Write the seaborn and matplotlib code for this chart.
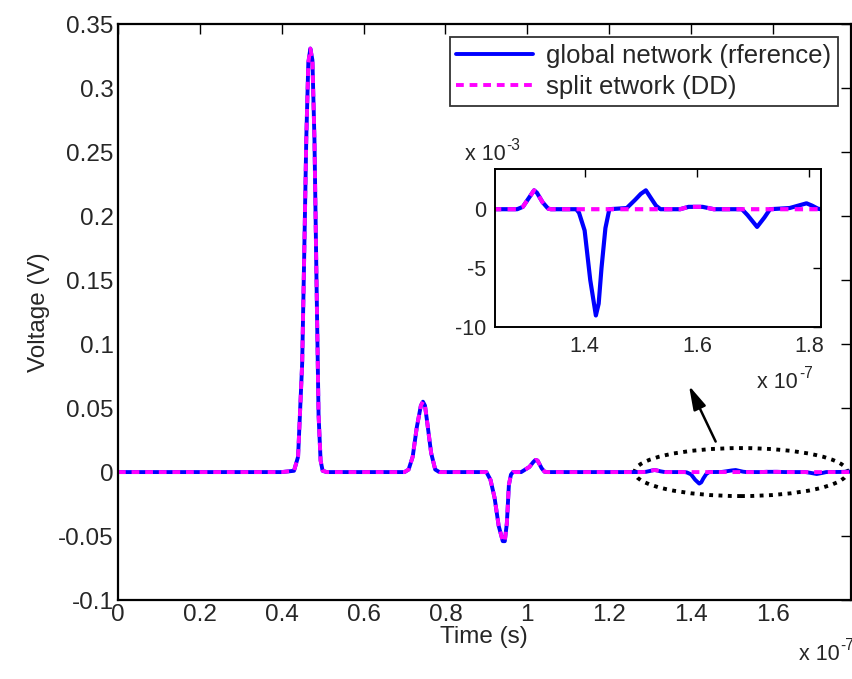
import matplotlib
matplotlib.use("Agg")
import matplotlib.pyplot as plt
from matplotlib.patches import Ellipse
import numpy as np
import pandas as pd
import seaborn as sns

# Time in units of 1e-7 s, voltage in V
t = [0.00, 0.40, 0.43, 0.44, 0.45, 0.455, 0.46, 0.465, 0.47, 0.475, 0.48, 0.485,
     0.49, 0.495, 0.50, 0.51, 0.70, 0.71, 0.72, 0.73, 0.74, 0.745, 0.75, 0.755,
     0.765, 0.775, 0.785, 0.90, 0.91, 0.92, 0.93, 0.94, 0.945, 0.95, 0.955, 0.96,
     0.965, 0.985, 0.995, 1.005, 1.015, 1.02, 1.025, 1.035, 1.042, 1.05, 1.28,
     1.29, 1.30, 1.31, 1.315, 1.325, 1.335, 1.34, 1.385, 1.39, 1.40, 1.41, 1.42,
     1.425, 1.43, 1.437, 1.444, 1.475, 1.49, 1.50, 1.509, 1.52, 1.527, 1.535,
     1.57, 1.585, 1.61, 1.63, 1.68, 1.69, 1.707, 1.72, 1.73, 1.765, 1.78, 1.795,
     1.805, 1.815, 1.82]

v_global = [0, 0, 0.001, 0.012, 0.085, 0.17, 0.26, 0.32, 0.331, 0.322, 0.26, 0.15,
            0.045, 0.009, 0.001, 0, 0, 0.002, 0.012, 0.035, 0.052, 0.055, 0.052,
            0.04, 0.015, 0.002, 0, 0, -0.006, -0.02, -0.042, -0.054, -0.054,
            -0.04, -0.01, -0.002, 0, 0, 0.002, 0.004, 0.008, 0.0095, 0.009,
            0.003, 0.0003, 0, 0, 0.0002, 0.0009, 0.0016, 0.0014, 0.0006, 0.00005,
            0, 0, -0.0003, -0.0018, -0.006, -0.009, -0.008, -0.005, -0.0016, 0,
            0.0001, 0.0008, 0.0013, 0.0016, 0.0008, 0.0003, 0, 0, 0.0002, 0.0002,
            0, 0, -0.0005, -0.0015, -0.0007, 0, 0.0001, 0.0003, 0.0005, 0.0003,
            0.00005, 0]

v_split = [0, 0, 0.001, 0.012, 0.085, 0.17, 0.26, 0.32, 0.331, 0.322, 0.26, 0.15,
           0.045, 0.009, 0.001, 0, 0, 0.002, 0.012, 0.035, 0.052, 0.055, 0.052,
           0.04, 0.015, 0.002, 0, 0, -0.006, -0.02, -0.042, -0.054, -0.054,
           -0.04, -0.01, -0.002, 0, 0, 0.002, 0.004, 0.008, 0.0095, 0.009,
           0.003, 0.0003, 0, 0, 0.0002, 0.0009, 0.0016, 0.0014, 0.0006, 0.00005,
           0, 0, 0, 0, 0, 0, 0, 0, 0, 0,
           0, 0, 0, 0, 0, 0, 0, 0, 0.0002, 0.0002,
           0, 0, 0, 0, 0, 0, 0, 0, 0, 0,
           0, 0]

main_xticks = [0, 0.2, 0.4, 0.6, 0.8, 1, 1.2, 1.4, 1.6]
main_yticks = [-0.1, -0.05, 0, 0.05, 0.1, 0.15, 0.2, 0.25, 0.3, 0.35]
inset_xticks = [1.4, 1.6, 1.8]
inset_yticks = [-10, -5, 0]  # units of 1e-3 V

label_global = "global network (rference)"
label_split = "split etwork (DD)"

df = pd.DataFrame({"t": t, "global": v_global, "split": v_split})

sns.set_theme(style="white")
plt.rcParams["font.family"] = ["Liberation Sans", "DejaVu Sans"]

FS = 17.5
FS_IN = 15.5
fig = plt.figure(figsize=(8.53, 6.79), dpi=100)
ax = fig.add_axes([0.1383, 0.1163, 0.859, 0.848])

blue = "#0000ff"
magenta = "#ff00ff"


def draw_curves(a, x, y1, y2, lw=2.8, dash=(2.0, 1.5)):
    sns.lineplot(x=x, y=y1, ax=a, color=blue, lw=lw, sort=False,
                 estimator=None, label=label_global)
    sns.lineplot(x=x, y=y2, ax=a, color=magenta, lw=lw, sort=False,
                 estimator=None, label=label_split, linestyle=(0, dash))


def power_label(x, y, exp, size, ha="left"):
    """Write 'x 10' with a raised exponent at figure coordinates."""
    base = fig.text(x, y, "x 10", fontsize=size, ha=ha, va="baseline")
    ax.annotate(exp, xy=(1.0, 0.72), xycoords=base, xytext=(0.5, 0),
                textcoords="offset points", fontsize=size * 0.72,
                ha="left", va="baseline", annotation_clip=False)
    return base


draw_curves(ax, df["t"], df["global"], df["split"])

ax.set_xlim(0, 1.79)
ax.set_ylim(-0.1, 0.35)
ax.set_xticks(main_xticks)
ax.set_xticklabels([f"{v:g}" for v in main_xticks])
ax.set_yticks(main_yticks)
ax.set_yticklabels([f"{v:g}" for v in main_yticks])
ax.tick_params(direction="in", top=True, right=True, length=7, width=1,
               labelsize=FS, color="black", pad=3)
for s in ax.spines.values():
    s.set_color("black")
    s.set_linewidth(1.6)
ax.set_xlabel("Time (s)", fontsize=FS, labelpad=0)
ax.set_ylabel("Voltage (V)", fontsize=FS, labelpad=6)
power_label(0.937, 0.028, "-7", FS_IN)

leg = ax.legend(loc="upper right", fontsize=FS + 1, frameon=True, fancybox=False,
                handlelength=3.0, borderaxespad=0.5, handletextpad=0.5,
                borderpad=0.25, labelspacing=0.3)
leg.get_frame().set_edgecolor("black")
leg.get_frame().set_linewidth(1.3)

# highlight region and pointer
ell = Ellipse((1.522, 0.0), width=0.52, height=0.0375, fill=False,
              linestyle=(0, (1.0, 1.4)), lw=2.8, color="black", clip_on=False)
ax.add_patch(ell)
ax.annotate("", xy=(1.392, 0.0695), xytext=(1.463, 0.0219),
            arrowprops=dict(arrowstyle="-|>,head_length=0.8,head_width=0.22",
                            color="black", lw=1.8, mutation_scale=18))

# zoomed view
axi = fig.add_axes([0.580, 0.518, 0.382, 0.233])
axi.set_facecolor("white")
draw_curves(axi, df["t"], df["global"] * 1e3, df["split"] * 1e3, lw=3.0)
if axi.get_legend():
    axi.get_legend().remove()
axi.set_xlim(1.24, 1.82)
axi.set_ylim(-10, 3.4)
axi.set_xticks(inset_xticks)
axi.set_xticklabels([f"{v:g}" for v in inset_xticks])
axi.set_yticks(inset_yticks)
axi.set_yticklabels([f"{v:g}" for v in inset_yticks])
axi.set_xlabel("")
axi.set_ylabel("")
axi.tick_params(direction="in", top=True, right=True, length=6, width=1,
                labelsize=FS_IN, color="black", pad=6)
for s in axi.spines.values():
    s.set_color("black")
    s.set_linewidth(1.4)
power_label(0.545, 1 - 160 / 679, "-3", FS_IN)
power_label(0.888, 1 - 388 / 679, "-7", FS_IN)

fig.savefig("out.png", dpi=100)
